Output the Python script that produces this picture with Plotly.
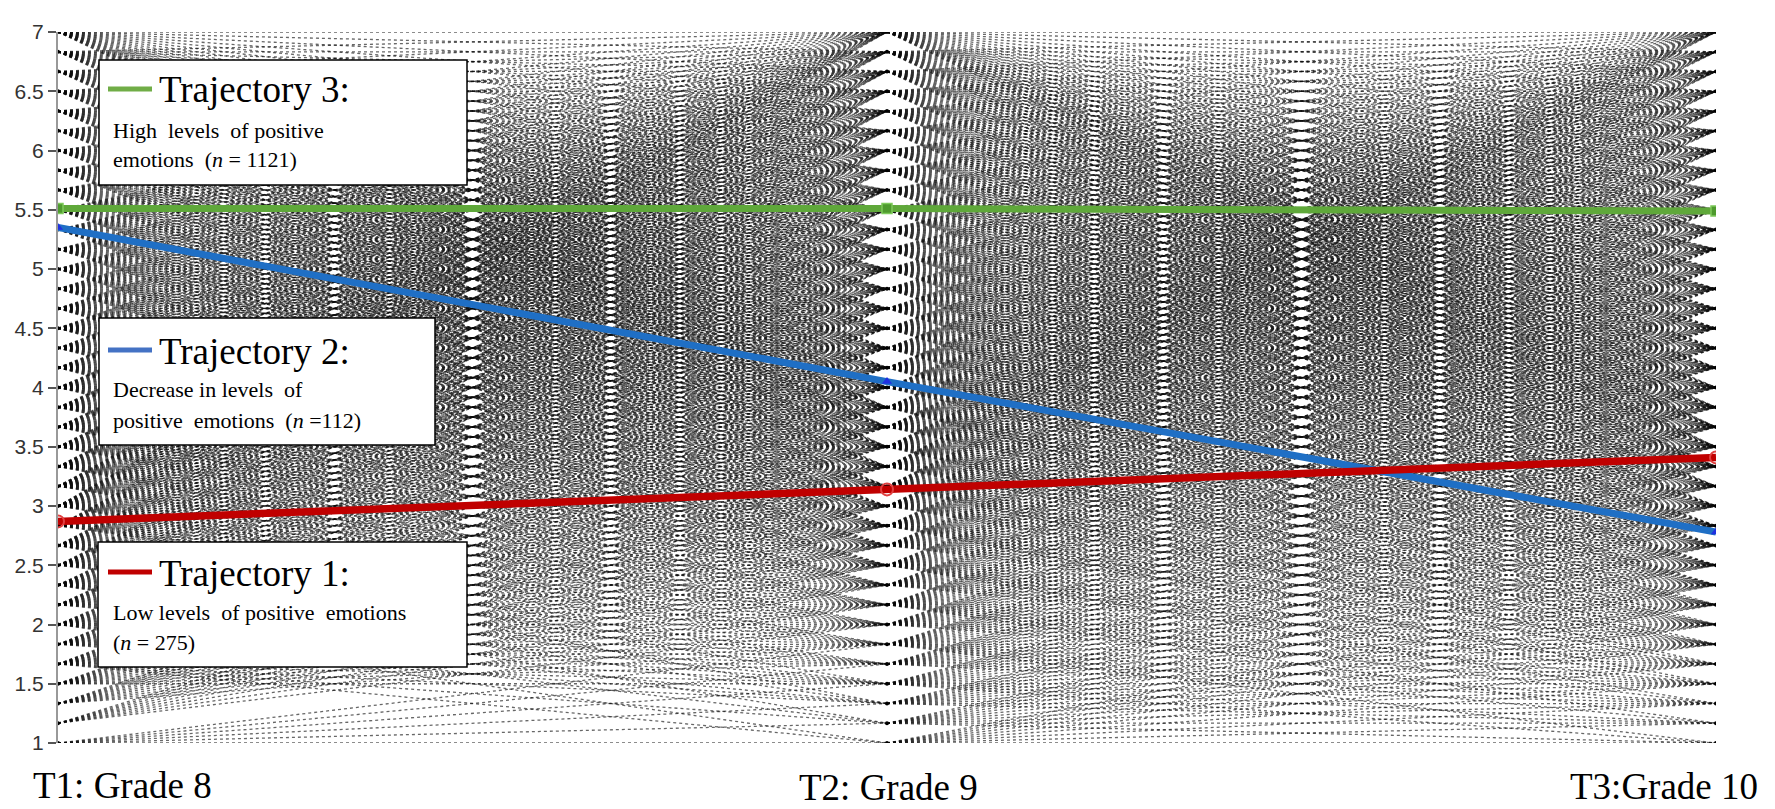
import plotly.graph_objects as go

# ---------------- data ----------------
TIME_LABELS = ["T1: Grade 8", "T2: Grade 9", "T3:Grade 10"]
TIME_X = [0, 1, 2]

# observed response levels (scale 1-7, steps of 1/6)
LEVELS = [1.0, 1.167, 1.333, 1.5, 1.667, 1.833, 2.0, 2.167, 2.333, 2.5, 2.667, 2.833,
          3.0, 3.167, 3.333, 3.5, 3.667, 3.833, 4.0, 4.167, 4.333, 4.5, 4.667, 4.833,
          5.0, 5.167, 5.333, 5.5, 5.667, 5.833, 6.0, 6.167, 6.333, 6.5, 6.667, 6.833, 7.0]

# individual trajectories, T1 level index -> range of T2 level indices (estimated)
CONNECT_12 = [(0, 5), (6, 14), (5, 16), (3, 18), (0, 20), (2, 22), (0, 24), (3, 26), (1, 28),
              (4, 30), (2, 32), (5, 34), (5, 36), (6, 36), (6, 36), (7, 36), (7, 36), (8, 36),
              (8, 36), (8, 36), (9, 36), (9, 36), (9, 36), (10, 36), (10, 36), (11, 36),
              (11, 36), (12, 36), (12, 36), (13, 36), (13, 36), (14, 36), (14, 36), (15, 36),
              (15, 36), (16, 36), (16, 36)]
# T2 level index -> range of T3 level indices (estimated)
CONNECT_23 = [(0, 8), (0, 10), (1, 12), (0, 14), (2, 16), (0, 18), (3, 20), (1, 22), (4, 24),
              (2, 26), (5, 28), (3, 30), (5, 32), (4, 34), (6, 36), (5, 36), (7, 36), (6, 36),
              (8, 36), (7, 36), (8, 36), (8, 36), (9, 36), (9, 36), (10, 36), (10, 36), (11, 36),
              (11, 36), (12, 36), (12, 36), (13, 36), (13, 36), (14, 36), (14, 36), (15, 36),
              (15, 36), (16, 36)]

TRAJ1 = [2.87, 3.14, 3.41]   # low levels (red)
TRAJ2 = [5.35, 4.05, 2.78]   # decrease (blue)
TRAJ3 = [5.51, 5.51, 5.49]   # high levels (green)

LEG3 = ["Trajectory 3:", "High  levels  of positive", "emotions  (<i>n</i> = 1121)"]
LEG2 = ["Trajectory 2:", "Decrease in levels  of", "positive  emotions  (<i>n</i> =112)"]
LEG1 = ["Trajectory 1:", "Low levels  of positive  emotions", "(<i>n</i> = 275)"]

Y_TICKS = [1, 1.5, 2, 2.5, 3, 3.5, 4, 4.5, 5, 5.5, 6, 6.5, 7]
Y_TICKTEXT = ["1", "1.5", "2", "2.5", "3", "3.5", "4", "4.5", "5", "5.5", "6", "6.5", "7"]

# ---------------- figure ----------------
W, H = 1775, 809
ML, MR, MT, MB = 58, 59, 32, 66

fig = go.Figure()

bx, by = [], []
for seg, conn in ((0, CONNECT_12), (1, CONNECT_23)):
    for i, (lo, hi) in enumerate(conn):
        for j in range(lo, hi + 1):
            bx += [TIME_X[seg], TIME_X[seg + 1], None]
            by += [LEVELS[i], LEVELS[j], None]

fig.add_trace(go.Scatter(x=bx, y=by, mode="lines",
                         line=dict(color="rgba(10,10,10,0.62)", width=1.3, dash="3px,3px"),
                         hoverinfo="skip", showlegend=False))

dx, dy = [], []
for t in TIME_X:
    dx += [t] * len(LEVELS)
    dy += LEVELS
fig.add_trace(go.Scatter(x=dx, y=dy, mode="markers",
                         marker=dict(color="black", size=4),
                         hoverinfo="skip", showlegend=False))

fig.add_trace(go.Scatter(x=TIME_X, y=TRAJ2, mode="lines+markers",
                         line=dict(color="#1F6FC5", width=7),
                         marker=dict(symbol="triangle-up", size=9, color="#2030E0"),
                         showlegend=False))
fig.add_trace(go.Scatter(x=TIME_X, y=TRAJ1, mode="lines+markers",
                         line=dict(color="#C00000", width=7.5),
                         marker=dict(symbol="circle-open", size=12, color="#E04040",
                                     line=dict(width=2)),
                         showlegend=False))
fig.add_trace(go.Scatter(x=TIME_X, y=TRAJ3, mode="lines+markers",
                         line=dict(color="#5FA83A", width=7),
                         marker=dict(symbol="square", size=10, color="#4E9A2E",
                                     line=dict(color="#7DC95A", width=1.5)),
                         showlegend=False))

PW = W - ML - MR
PH = H - MT - MB


def px(x):
    return (x - ML) / PW


def py(y):
    return (H - MB - y) / PH


shapes = []
annotations = []
boxes = [
    (99, 467, 60, 185, "#70AD47", 89, LEG3, [90, 130.5, 159.5]),
    (99, 435, 318, 445, "#4472C4", 350, LEG2, [351, 389.5, 420.5]),
    (98, 467, 542, 667, "#C00000", 572, LEG1, [573, 612.5, 642.5]),
]
for x0, x1, y0, y1, col, ly, texts, ys in boxes:
    shapes.append(dict(type="rect", xref="paper", yref="paper",
                       x0=px(x0), x1=px(x1), y0=py(y1), y1=py(y0),
                       fillcolor="white", line=dict(color="black", width=1.5), layer="above"))
    shapes.append(dict(type="line", xref="paper", yref="paper",
                       x0=px(108), x1=px(152), y0=py(ly), y1=py(ly),
                       line=dict(color=col, width=5), layer="above"))
    annotations.append(dict(text=texts[0], xref="paper", yref="paper",
                            x=px(157), y=py(ys[0]), xanchor="left", yanchor="middle",
                            showarrow=False,
                            font=dict(family="Liberation Serif", size=37, color="black")))
    for t, yy in zip(texts[1:], ys[1:]):
        annotations.append(dict(text=t, xref="paper", yref="paper",
                                x=px(111), y=py(yy), xanchor="left", yanchor="middle",
                                showarrow=False,
                                font=dict(family="Liberation Serif", size=22, color="black")))

xlab = [(TIME_LABELS[0], 31, 785, "left"), (TIME_LABELS[1], 889, 788, "center"),
        (TIME_LABELS[2], 1760, 786, "right")]
for t, xx, yy, anc in xlab:
    annotations.append(dict(text=t, xref="paper", yref="paper", x=px(xx), y=py(yy),
                            xanchor=anc, yanchor="middle", showarrow=False,
                            font=dict(family="Liberation Serif", size=37, color="black")))

fig.update_layout(
    width=W, height=H,
    margin=dict(l=ML, r=MR, t=MT, b=MB),
    paper_bgcolor="white", plot_bgcolor="white",
    shapes=shapes, annotations=annotations,
    xaxis=dict(range=[0, 2], showgrid=False, zeroline=False, showticklabels=False,
               ticks="", showline=False, fixedrange=True),
    yaxis=dict(range=[1, 7], showgrid=False, zeroline=False, tickvals=Y_TICKS,
               ticktext=Y_TICKTEXT, ticks="outside", ticklen=8, tickwidth=1.5,
               tickcolor="#555", showline=True, linecolor="#999", linewidth=2,
               tickfont=dict(family="Liberation Sans", size=21, color="#333"),
               fixedrange=True),
    showlegend=False,
)

fig.write_html("out.html", config={"displayModeBar": False},
               post_script="document.body.style.margin='0';document.body.style.overflow='hidden';")
